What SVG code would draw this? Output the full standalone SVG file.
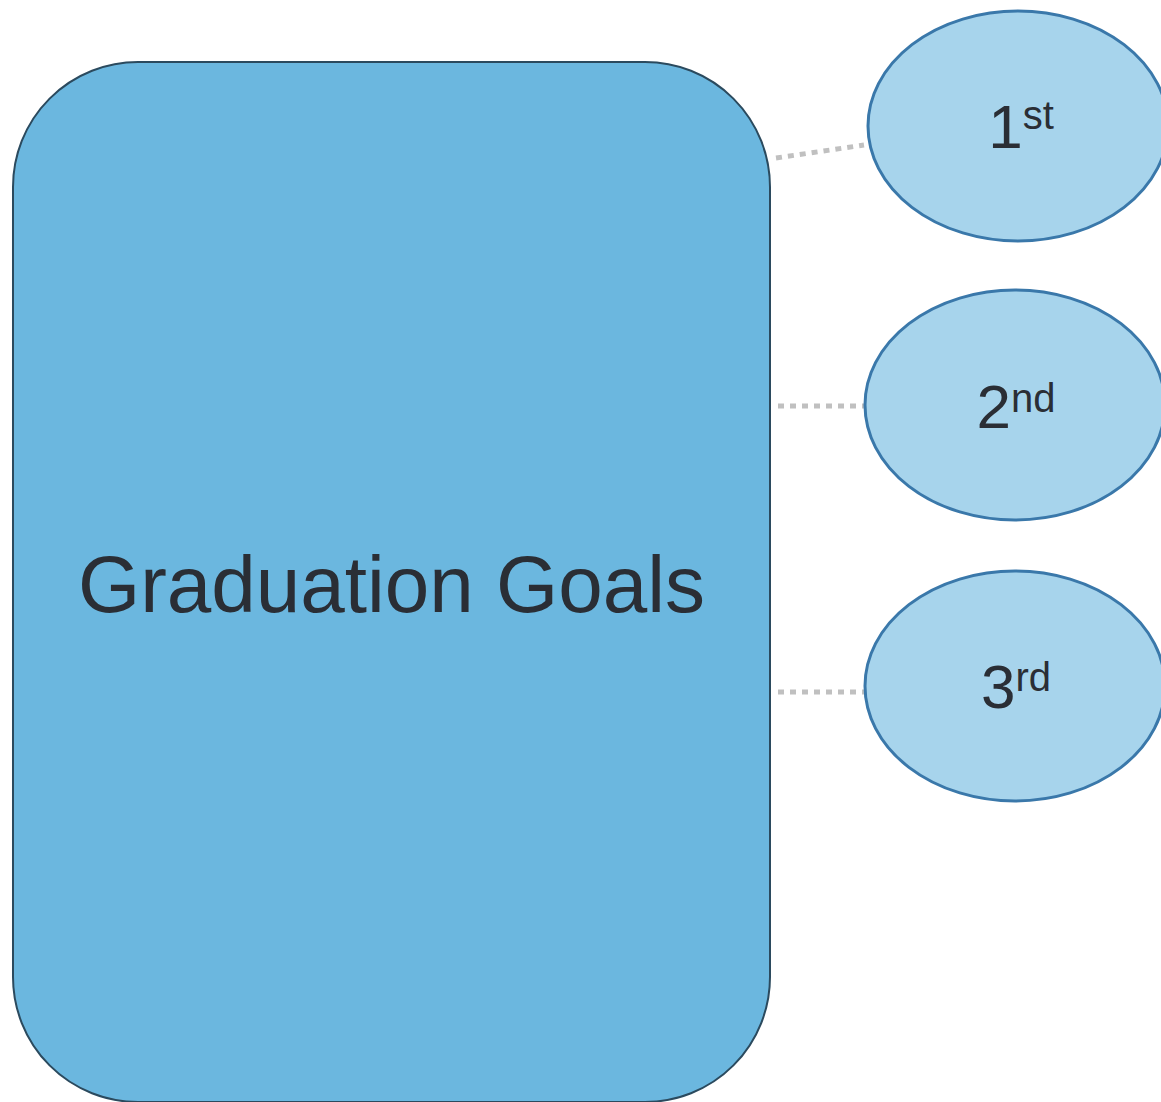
<svg xmlns="http://www.w3.org/2000/svg" width="1161" height="1102" viewBox="0 0 1161 1102">
<style>
.main{fill:#6bb7df;stroke:#2b4a5e;stroke-width:2}
.bub{fill:#a7d4ec;stroke:#3a78aa;stroke-width:3}
.t{font-family:"Liberation Sans",Arial,sans-serif;fill:#2a2e35}
.conn{stroke:#c0c0c0;stroke-width:5;stroke-dasharray:6 6;fill:none}
</style>
<rect width="1161" height="1102" fill="#ffffff"/>
<g id="connectors">
<line class="conn" x1="776" y1="158" x2="864" y2="145"/>
<line class="conn" x1="778" y1="406" x2="866" y2="406"/>
<line class="conn" x1="778" y1="692" x2="866" y2="692"/>
</g>
<g id="graduation-goals">
<rect class="main" x="13" y="62" width="757" height="1040" rx="125" ry="125"/>
<text class="t" x="391.5" y="612" font-size="80" text-anchor="middle">Graduation Goals</text>
</g>
<g id="first">
<ellipse class="bub" cx="1018" cy="126" rx="150" ry="115"/>
<text class="t" x="1021" y="148" text-anchor="middle" font-size="62">1<tspan font-size="40" dy="-19">st</tspan></text>
</g>
<g id="second">
<ellipse class="bub" cx="1015" cy="405" rx="150" ry="115"/>
<text class="t" x="1016" y="428" text-anchor="middle" font-size="62">2<tspan font-size="40" dy="-16">nd</tspan></text>
</g>
<g id="third">
<ellipse class="bub" cx="1015" cy="686" rx="150" ry="115"/>
<text class="t" x="1016" y="708" text-anchor="middle" font-size="62">3<tspan font-size="40" dy="-17">rd</tspan></text>
</g>
</svg>
